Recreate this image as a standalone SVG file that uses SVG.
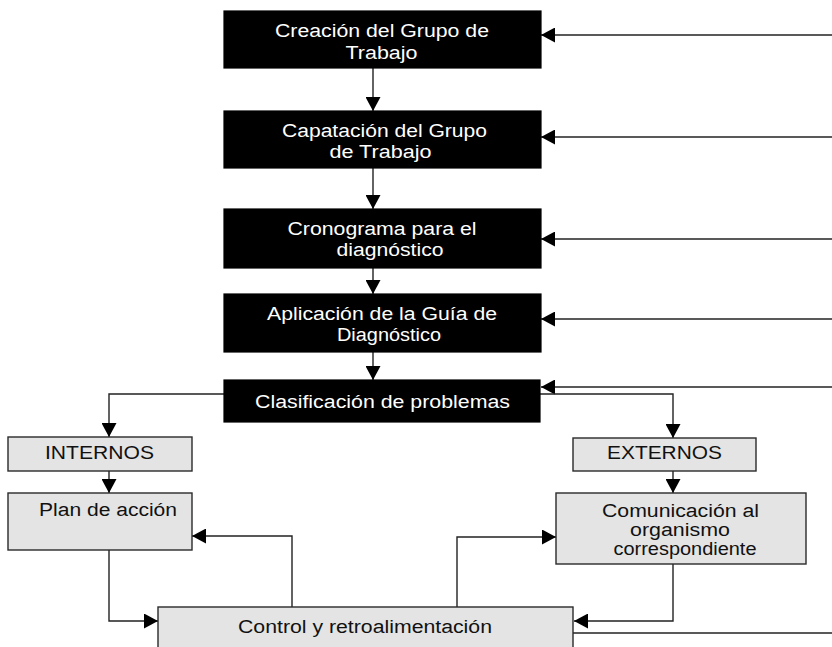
<svg xmlns="http://www.w3.org/2000/svg" width="832" height="647" viewBox="0 0 832 647">
  <style>
    .dark rect { fill: #000; stroke: #000; stroke-width: 1.2; }
    .light rect { fill: #e4e4e4; stroke: #2a2a2a; stroke-width: 1.4; }
    text { font-family: "Liberation Sans", Arial, sans-serif; font-size: 18px; text-anchor: middle; }
    .dark text { fill: #fff; }
    .light text { fill: #111; }
    .conn path { fill: none; stroke: #222; stroke-width: 1.4; }
  </style>
  <defs>
    <marker id="arrow" markerUnits="userSpaceOnUse" markerWidth="14" markerHeight="15" refX="14" refY="7.5" orient="auto">
      <path d="M0,0 L14,7.5 L0,15 Z" fill="#000"/>
    </marker>
  </defs>
  <rect width="832" height="647" fill="#fff"/>

  <!-- connectors -->
  <g id="connectors" class="conn">
    <!-- main vertical flow -->
    <path d="M373,68 V111" marker-end="url(#arrow)"/>
    <path d="M373,168 V209" marker-end="url(#arrow)"/>
    <path d="M373,268 V294" marker-end="url(#arrow)"/>
    <path d="M373,352 V380" marker-end="url(#arrow)"/>
    <!-- feedback lines entering from the right -->
    <path d="M832,35 H541" marker-end="url(#arrow)"/>
    <path d="M832,137 H541" marker-end="url(#arrow)"/>
    <path d="M832,239 H541" marker-end="url(#arrow)"/>
    <path d="M832,319 H541" marker-end="url(#arrow)"/>
    <path d="M832,387 H541" marker-end="url(#arrow)"/>
    <!-- branches from the classification -->
    <path d="M224,394 H109 V437" marker-end="url(#arrow)"/>
    <path d="M540,394 H673 V438" marker-end="url(#arrow)"/>
    <path d="M109,471 V493" marker-end="url(#arrow)"/>
    <path d="M673,471 V493" marker-end="url(#arrow)"/>
    <!-- loops with control -->
    <path d="M109,550 V621 H158" marker-end="url(#arrow)"/>
    <path d="M292,607 V536 H192" marker-end="url(#arrow)"/>
    <path d="M457,607 V537 H556" marker-end="url(#arrow)"/>
    <path d="M673,564 V621 H574" marker-end="url(#arrow)"/>
    <path d="M573,633 H832"/>
  </g>

  <g id="creacion" class="dark">
    <rect x="224" y="11" width="317" height="57"/>
    <text x="382" y="37" textLength="214" lengthAdjust="spacingAndGlyphs">Creación del Grupo de</text>
    <text x="381.5" y="59" textLength="72" lengthAdjust="spacingAndGlyphs">Trabajo</text>
  </g>
  <g id="capacitacion" class="dark">
    <rect x="224" y="111" width="317" height="57"/>
    <text x="384.5" y="137" textLength="205" lengthAdjust="spacingAndGlyphs">Capatación del Grupo</text>
    <text x="380.5" y="158" textLength="102" lengthAdjust="spacingAndGlyphs">de Trabajo</text>
  </g>
  <g id="cronograma" class="dark">
    <rect x="224" y="209" width="317" height="59"/>
    <text x="382" y="235" textLength="189" lengthAdjust="spacingAndGlyphs">Cronograma para el</text>
    <text x="390" y="256" textLength="107" lengthAdjust="spacingAndGlyphs">diagnóstico</text>
  </g>
  <g id="aplicacion" class="dark">
    <rect x="224" y="294" width="317" height="58"/>
    <text x="382" y="320" textLength="230" lengthAdjust="spacingAndGlyphs">Aplicación de la Guía de</text>
    <text x="389" y="341" textLength="104" lengthAdjust="spacingAndGlyphs">Diagnóstico</text>
  </g>
  <g id="clasificacion" class="dark">
    <rect x="224" y="380" width="316" height="42"/>
    <text x="382.5" y="408" textLength="255" lengthAdjust="spacingAndGlyphs">Clasificación de problemas</text>
  </g>

  <g id="internos" class="light">
    <rect x="8" y="437" width="184" height="34"/>
    <text x="99.5" y="459" textLength="109" lengthAdjust="spacingAndGlyphs">INTERNOS</text>
  </g>
  <g id="externos" class="light">
    <rect x="573" y="438" width="183" height="33"/>
    <text x="664.5" y="459" textLength="115" lengthAdjust="spacingAndGlyphs">EXTERNOS</text>
  </g>
  <g id="plan" class="light">
    <rect x="8" y="493" width="184" height="57"/>
    <text x="108" y="516" textLength="138" lengthAdjust="spacingAndGlyphs">Plan de acción</text>
  </g>
  <g id="comunicacion" class="light">
    <rect x="556" y="493" width="250" height="71"/>
    <text x="680.5" y="517" textLength="157" lengthAdjust="spacingAndGlyphs">Comunicación al</text>
    <text x="680" y="536" textLength="100" lengthAdjust="spacingAndGlyphs">organismo</text>
    <text x="685" y="555" textLength="143" lengthAdjust="spacingAndGlyphs">correspondiente</text>
  </g>
  <g id="control" class="light">
    <rect x="158" y="607" width="415" height="50"/>
    <text x="365" y="633" textLength="254" lengthAdjust="spacingAndGlyphs">Control y retroalimentación</text>
  </g>
</svg>
